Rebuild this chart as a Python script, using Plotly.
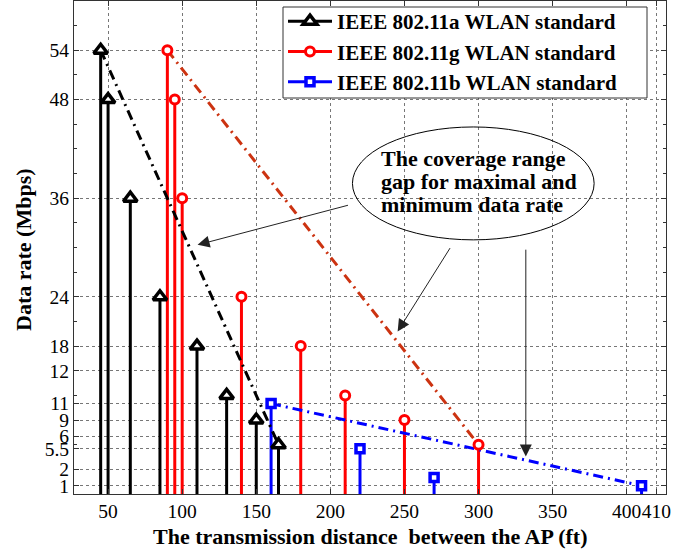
import plotly.graph_objects as go

# ---- data ----
a_x = [45, 50, 65, 85, 110, 130, 150, 165]
a_y = [54, 48, 36, 24, 18, 12, 9, 6]
g_x = [90, 95, 100, 140, 180, 210, 250, 300]
g_y = [54, 48, 36, 24, 18, 12, 9, 6]
b_x = [160, 220, 270, 410]
b_y = [11, 5.5, 2, 1]

x_tickvals = [50, 100, 150, 200, 250, 300, 350, 400, 420]
x_ticktext = ["50", "100", "150", "200", "250", "300", "350", "400", "410"]
y_tickvals = [1, 3, 5.5, 7, 9, 11, 15, 18, 24, 36, 48, 54]
y_ticktext = ["1", "2", "5.5", "6", "9", "11", "12", "18", "24", "36", "48", "54"]

names = ["IEEE 802.11a WLAN standard", "IEEE 802.11g WLAN standard", "IEEE 802.11b WLAN standard"]
x_title = "The transmission distance\u00a0 between the AP (ft)"
y_title = "Data rate (Mbps)"

SERIF = "Liberation Serif, Times New Roman, serif"

series = [
    dict(x=a_x, y=a_y, color="black", dcolor="black", symbol="triangle-up", size=12, lw=3.5),
    dict(x=g_x, y=g_y, color="#ff0000", dcolor="#cc3311", symbol="circle", size=9, lw=3),
    dict(x=b_x, y=b_y, color="#0000ff", dcolor="#0000ff", symbol="square", size=8, lw=3.5),
]

fig = go.Figure()

# stems
for s in series:
    sx, sy = [], []
    for xv, yv in zip(s["x"], s["y"]):
        sx += [xv, xv, None]
        sy += [0, yv, None]
    fig.add_trace(go.Scatter(x=sx, y=sy, mode="lines", showlegend=False, hoverinfo="skip",
                             line=dict(color=s["color"], width=3)))

# dash-dot connecting lines (first to last point of each series)
for s in series:
    fig.add_trace(go.Scatter(x=[s["x"][0], s["x"][-1]], y=[s["y"][0], s["y"][-1]],
                             mode="lines", showlegend=False, hoverinfo="skip",
                             line=dict(color=s["dcolor"], width=3, dash="10px,5px,2px,5px")))

# markers
for s in series:
    fig.add_trace(go.Scatter(x=s["x"], y=s["y"], mode="markers", showlegend=False,
                             marker=dict(symbol=s["symbol"], size=s["size"], color="white",
                                         line=dict(color=s["color"], width=s["lw"]))))

# legend entries
for s, n in zip(series, names):
    fig.add_trace(go.Scatter(x=[None], y=[None], mode="lines+markers", name=n,
                             line=dict(color=s["color"], width=3),
                             marker=dict(symbol=s["symbol"], size=s["size"], color="white",
                                         line=dict(color=s["color"], width=s["lw"]))))

axis_common = dict(
    showline=True, linecolor="#333333", linewidth=1, mirror="all",
    ticks="inside", ticklen=5, tickcolor="#333333",
    showgrid=True, gridcolor="#777777", griddash="dot", gridwidth=1,
    zeroline=False, tickfont=dict(family=SERIF, size=19.5, color="black"),
    automargin=False, tickangle=0,
)

PL, PT, PW, PH = 74, 1, 592, 493  # plot area in pixels (for paper-coordinate placement)

fig.update_layout(
    width=700, height=552,
    margin=dict(l=74, r=34, t=1, b=58),
    plot_bgcolor="white", paper_bgcolor="white",
    xaxis=dict(range=[27, 426.5], tickmode="array", tickvals=x_tickvals, ticktext=x_ticktext,
               **axis_common),
    yaxis=dict(range=[0, 60], tickmode="array", tickvals=y_tickvals, ticktext=y_ticktext,
               minor=dict(tickmode="linear", tick0=0, dtick=3, ticks="inside", ticklen=3,
                          tickcolor="#333333", showgrid=False),
               **axis_common),
    legend=dict(x=(283 - PL) / PW, xanchor="left", y=1 - (1 - PT) / PH, yanchor="top",
                bgcolor="rgba(0,0,0,0)", borderwidth=0,
                font=dict(family=SERIF, size=21, color="black", weight="bold"),
                itemwidth=44, tracegroupgap=0),
    showlegend=True,
)

# axis titles
title_font = dict(family=SERIF, size=22, color="black", weight="bold")
fig.add_annotation(text=x_title, xref="paper", yref="paper", x=0.5, y=1 - (536 - PT) / PH,
                   xanchor="center", yanchor="middle", showarrow=False, font=title_font)
fig.add_annotation(text=y_title, xref="paper", yref="paper", x=(24 - PL) / PW,
                   y=1 - (250 - PT) / PH, xanchor="center", yanchor="middle",
                   textangle=-90, showarrow=False, font=title_font)

# legend box
fig.add_shape(type="rect", xref="paper", yref="paper",
              x0=(283 - PL) / PW, x1=(647 - PL) / PW,
              y0=1 - (98 - PT) / PH, y1=1 - (7 - PT) / PH,
              fillcolor="white", line=dict(color="#333333", width=1), layer="above")

# ellipse
fig.add_shape(type="circle", xref="x", yref="y", x0=214.9, x1=378, y0=30.93, y1=44.67,
              line=dict(color="black", width=1), layer="above")

for txt, yy in zip(["The coverage range", "gap for maximal and", "minimum data rate"],
                   [40.78, 37.98, 35.18]):
    fig.add_annotation(x=233.1, y=yy, xref="x", yref="y", text=txt, showarrow=False,
                       xanchor="left", yanchor="middle",
                       font=dict(family=SERIF, size=22, color="black", weight="bold"))

# arrows (tip at x,y ; tail at ax,ay)
arrows = [
    (110.4, 30.32, 212.9, 35.19),
    (245.4, 19.78, 281.4, 30.11),
    (331.9, 4.57, 331.9, 29.92),
]
for x, y, ax, ay in arrows:
    fig.add_annotation(x=x, y=y, ax=ax, ay=ay, xref="x", yref="y", axref="x", ayref="y",
                       text="", showarrow=True, arrowhead=2, arrowsize=2.4, arrowwidth=1,
                       arrowcolor="#222222")

fig.write_html("out.html", config={"displayModeBar": False},
               post_script="document.body.style.margin='0';document.body.style.padding='0';")
